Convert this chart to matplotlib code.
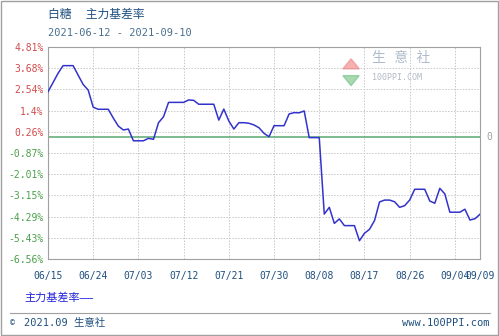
import matplotlib
matplotlib.use("Agg")
import matplotlib.pyplot as plt
import matplotlib.dates as mdates
import pandas as pd
from matplotlib.patches import Polygon, Rectangle

plt.rcParams['font.family'] = ['DejaVu Sans Mono', 'Noto Sans CJK SC']

# daily basis rate (%), 06/15 .. 09/09
dates = pd.date_range("2021-06-15", "2021-09-09", freq="D")
basis = [2.41, 2.9, 3.4, 3.81, 3.81, 3.81, 3.3, 2.8, 2.5, 1.58,
         1.47, 1.47, 1.47, 1.0, 0.57, 0.36, 0.41, -0.22, -0.22, -0.22,
         -0.09, -0.14, 0.75, 1.07, 1.84, 1.84, 1.84, 1.84, 1.97, 1.95,
         1.74, 1.74, 1.74, 1.74, 0.89, 1.48, 0.84, 0.41, 0.75, 0.75,
         0.72, 0.63, 0.48, 0.18, 0.0, 0.59, 0.59, 0.59, 1.22, 1.29,
         1.28, 1.38, -0.05, -0.05, -0.05, -4.15, -3.79, -4.65, -4.41, -4.77,
         -4.77, -4.77, -5.58, -5.18, -4.97, -4.5, -3.5, -3.4, -3.4, -3.49,
         -3.79, -3.7, -3.4, -2.82, -2.82, -2.82, -3.45, -3.57, -2.77, -3.07,
         -4.05, -4.05, -4.05, -3.89, -4.47, -4.4, -4.16]

yticks = [4.81, 3.68, 2.54, 1.4, 0.26, -0.87, -2.01, -3.15, -4.29, -5.43, -6.56]
ytick_labels = ["4.81%", "3.68%", "2.54%", "1.4%", "0.26%", "-0.87%", "-2.01%",
                "-3.15%", "-4.29%", "-5.43%", "-6.56%"]
xtick_dates = ["2021-06-15", "2021-06-24", "2021-07-03", "2021-07-12", "2021-07-21",
               "2021-07-30", "2021-08-08", "2021-08-17", "2021-08-26", "2021-09-04",
               "2021-09-09"]
xtick_labels = ["06/15", "06/24", "07/03", "07/12", "07/21", "07/30", "08/08",
                "08/17", "08/26", "09/04", "09/09"]

fig = plt.figure(figsize=(4.99, 3.36), dpi=100)
ax = fig.add_axes([48 / 499, 1 - 259 / 336, 432 / 499, 212 / 336])

ax.plot(dates, basis, color="#3333cc", lw=1.1, zorder=3)
ax.axhline(0, color="#5aa870", lw=1.1, zorder=2)

ax.set_xlim(dates[0], dates[-1])
ax.set_ylim(-6.56, 4.81)
ax.set_yticks(yticks)
ax.set_yticklabels(ytick_labels, fontsize=7)
for lbl, v in zip(ax.get_yticklabels(), yticks):
    lbl.set_color("#d24a4a" if v > 0 else "#4aa04a")
ax.set_xticks(pd.to_datetime(xtick_dates))
ax.set_xticklabels(xtick_labels, fontsize=7, color="#1f4f7f")
ax.tick_params(length=0, pad=3)
ax.tick_params(axis="x", pad=9)
ax.grid(True, color="#c8c8c8", ls=(0, (1.5, 1.5)), lw=0.7)
for s in ax.spines.values():
    s.set_color("#a0a0a0")
    s.set_linewidth(0.8)

# right side zero marker
fig.text(486 / 499, 1 - 137 / 336, "0", fontsize=7, color="#a0a0a0", va="center")

# titles
fig.text(48 / 499, 1 - 14 / 336, "白糖  主力基差率", fontsize=8.5, color="#1f4f7f", va="center")
fig.text(48 / 499, 1 - 33 / 336, "2021-06-12 - 2021-09-10", fontsize=7.5, color="#4a6f8f", va="center")

# legend text
fig.text(24 / 499, 1 - 298 / 336, "主力基差率——", fontsize=8, color="#2222dd", va="center")

# watermark
fig.patches.append(Polygon([[0.687, 0.795], [0.720, 0.795], [0.7035, 0.825]], closed=True,
                           transform=fig.transFigure, color="#f08080", alpha=0.6))
fig.patches.append(Polygon([[0.687, 0.775], [0.720, 0.775], [0.7035, 0.745]], closed=True,
                           transform=fig.transFigure, color="#70c080", alpha=0.6))
fig.text(0.745, 1 - 58 / 336, "生 意 社", fontsize=10, color="#9aaabf", va="center", alpha=0.8)
fig.text(0.745, 1 - 77 / 336, "100PPI.COM", fontsize=6, color="#a0a8b8", va="center", alpha=0.8)

# footer
fig.add_artist(plt.Line2D([10 / 499, 490 / 499], [1 - 313 / 336, 1 - 313 / 336],
                          transform=fig.transFigure, color="#a0a0a0", lw=0.8))
fig.text(10 / 499, 1 - 323 / 336, "©", fontsize=6, color="#1f4f7f", va="center")
fig.text(24 / 499, 1 - 323 / 336, "2021.09 生意社", fontsize=7.5, color="#1f4f7f", va="center")
fig.text(489 / 499, 1 - 323 / 336, "www.100PPI.com", fontsize=7.5, color="#1f4f7f",
         va="center", ha="right")

# outer frame
fig.patches.append(Rectangle((0.002, 0.003), 0.995, 0.994, transform=fig.transFigure,
                             fill=False, edgecolor="#a0a0a0", lw=1))

fig.savefig("out.png", dpi=100)
